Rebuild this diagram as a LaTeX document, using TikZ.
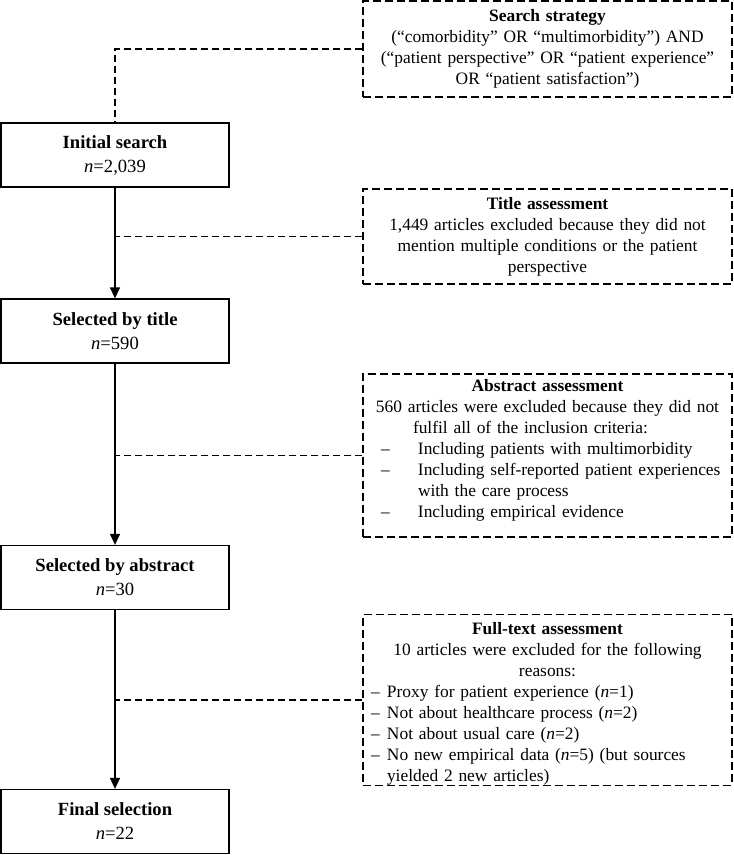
\documentclass[tikz,border=0pt]{standalone}
\usepackage{fontspec}
\setmainfont{Liberation Serif}
\usetikzlibrary{arrows.meta}
\begin{document}
\begin{tikzpicture}[x=1pt,y=-1pt,
  mainbox/.style={draw, line width=1.3pt, minimum width=228pt, minimum height=64pt, inner sep=0pt, align=center, font=\fontsize{18.6}{24}\selectfont},
  notebox/.style={draw, line width=1.4pt, dash pattern=on 8pt off 4pt, minimum width=369pt, inner sep=0pt, text width=369pt, font=\fontsize{17.4}{21}\selectfont},
  flow/.style={line width=1.3pt, -{Triangle[length=11pt,width=10pt]}},
  link/.style={line width=1.3pt, dash pattern=on 7pt off 4pt}]
\useasboundingbox (0,0) rectangle (734,855);

% main flow boxes
\node[mainbox] (init) at (115,155) {\textbf{Initial search}\\\textit{n}=2,039};
\node[mainbox] (seltitle) at (115,331) {\textbf{Selected by title}\\\textit{n}=590};
\node[mainbox] (selabs) at (115,577.5) {\textbf{Selected by abstract}\\\textit{n}=30};
\node[mainbox] (final) at (115,821.5) {\textbf{Final selection}\\\textit{n}=22};

% note boxes
\node[notebox, minimum height=96pt, align=center] (search) at (547.5,49)
  {\textbf{Search strategy}\\(“comorbidity” OR “multimorbidity”) AND\\(“patient perspective” OR “patient experience”\\OR “patient satisfaction”)\\[4pt]};
\node[notebox, minimum height=95pt, align=center] (tnote) at (547.5,236.5)
  {\textbf{Title assessment}\\1,449 articles excluded because they did not\\mention multiple conditions or the patient\\perspective\\[3pt]};
\node[notebox, minimum height=163pt, align=left] (anote) at (547.5,455.5)
  {{\centering\textbf{Abstract assessment}\par
    560 articles were excluded because they did not\par}
   \hspace*{50pt}fulfil all of the inclusion criteria:\par
   \hspace*{18pt}\makebox[37pt][l]{–}Including patients with multimorbidity\par
   \hspace*{18pt}\makebox[37pt][l]{–}Including self-reported patient experiences\par
   \hspace*{55pt}with the care process\par
   \hspace*{18pt}\makebox[37pt][l]{–}Including empirical evidence\rule[-14pt]{0pt}{14pt}\par};
\node[notebox, minimum height=170pt, align=left] (fnote) at (547.5,700)
  {{\centering\rule{0pt}{20pt}\textbf{Full-text assessment}\par
    10 articles were excluded for the following\par
    reasons:\par}
   \hspace*{8pt}\makebox[16pt][l]{–}Proxy for patient experience (\textit{n}=1)\par
   \hspace*{8pt}\makebox[16pt][l]{–}Not about healthcare process (\textit{n}=2)\par
   \hspace*{8pt}\makebox[16pt][l]{–}Not about usual care (\textit{n}=2)\par
   \hspace*{8pt}\makebox[16pt][l]{–}No new empirical data (\textit{n}=5) (but sources\par
   \hspace*{24pt}yielded 2 new articles)\par};

% connectors
\draw[link] (search.west) -| (init.north);
\draw[flow] (init.south) -- (seltitle.north);
\draw[flow] (seltitle.south) -- (selabs.north);
\draw[flow] (selabs.south) -- (final.north);
\draw[link] (tnote.west) -- (tnote.west -| init.south);
\draw[link] (anote.west) -- (anote.west -| init.south);
\draw[link] (fnote.west) -- (fnote.west -| init.south);
\end{tikzpicture}
\end{document}
